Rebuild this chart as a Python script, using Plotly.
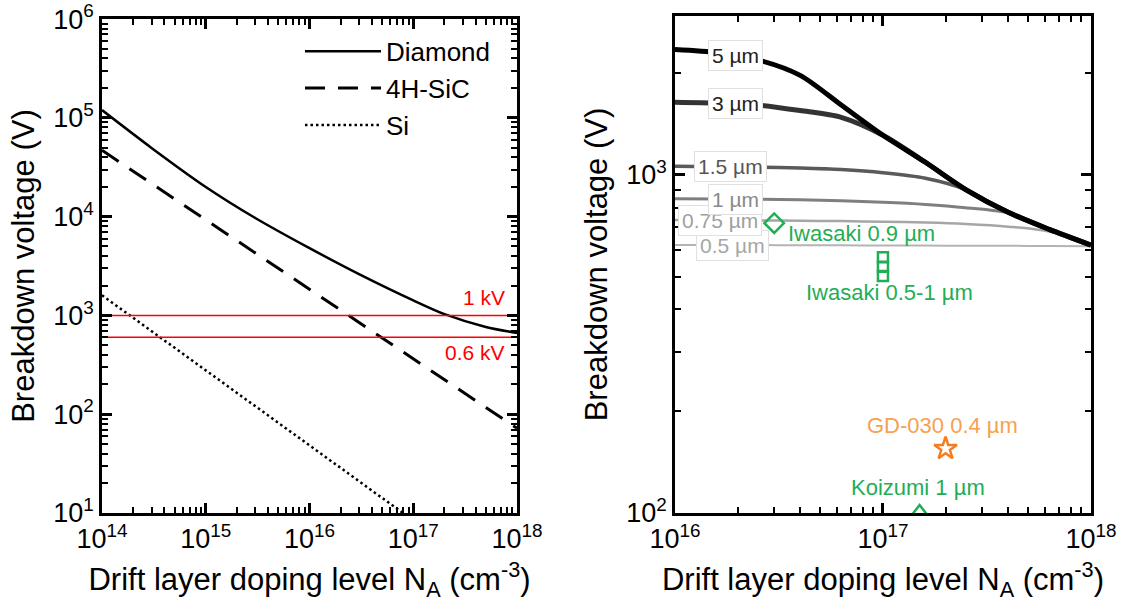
import numpy as np
import plotly.graph_objects as go

# ---------------- Left panel data ----------------
N_diamond = [1e14, 3e14, 1e15, 3e15, 1e16, 3e16, 1e17, 2e17, 5e17, 1e18]
V_diamond = [1.2e5, 4.97e4, 2.0e4, 9.7e3, 4.8e3, 2.62e3, 1.42e3, 1.03e3, 765, 665]
N_sic = [1e14, 1e15, 1e16, 1e17, 1e18]
V_sic = [4.7e4, 9.3e3, 1.86e3, 370, 72]
N_si = [1e14, 1e15, 1e16, 1e17]
V_si = [1.6e3, 280, 48, 8.4]
limit_V = [1000, 600]
limit_labels = ["1 kV", "0.6 kV"]
limit_label_pos = [(8.0e17, 1.52e3), (8.0e17, 426)]

# ---------------- Right panel data ----------------
N_right = [1.0e16, 1.6e16, 2.5e16, 4.0e16, 6.3e16, 1.0e17, 1.6e17, 2.5e17, 4.0e17, 6.3e17, 1.0e18]
thick_labels = ["0.5 µm", "0.75 µm", "1 µm", "1.5 µm", "3 µm", "5 µm"]
V_thick = [
    [620, 620, 620, 619, 619, 618, 618, 617, 617, 616, 615],
    [735, 734, 733, 732, 730, 727, 723, 716, 703, 680, 620],
    [850, 849, 847, 844, 838, 830, 818, 800, 772, 690, 620],
    [1060, 1058, 1055, 1048, 1037, 1015, 978, 905, 775, 690, 620],
    [1640, 1630, 1610, 1550, 1480, 1310, 1090, 905, 775, 690, 620],
    [2350, 2300, 2190, 1970, 1610, 1310, 1090, 905, 775, 690, 620],
]
thick_colors = ["#b4b4b4", "#a6a6a6", "#7f7f7f", "#5a5a5a", "#333333", "#000000"]
thick_text_colors = ["#a6a6a6", "#a0a0a0", "#8a8a8a", "#555555", "#222222", "#222222"]
thick_widths = [2, 2.5, 3, 3.5, 5, 5]
label_N = [1.9e16, 1.65e16, 1.95e16, 1.85e16, 1.95e16, 1.95e16]

# experimental points
iwasaki09_N, iwasaki09_V = [3e16], [720]
iwasaki_range_N, iwasaki_range_V = [1e17, 1e17, 1e17], [571, 535, 502]
gd030_N, gd030_V = [2e17], [155]
koizumi_N, koizumi_V = [1.5e17], [100]
exp_labels = ["Iwasaki 0.9 µm", "Iwasaki 0.5-1 µm", "GD-030 0.4 µm", "Koizumi 1 µm"]
exp_label_pos = [(3.4e16, 673), (1.07e17, 448), (1.94e17, 181), (1.48e17, 118.6)]

GREEN = "#1fae55"
ORANGE = "#f57c1f"
ORANGE_TXT = "#f7a14f"
FONT = "Liberation Sans, Arial, sans-serif"

fig = go.Figure()

# left traces
fig.add_trace(go.Scatter(x=N_diamond, y=V_diamond, mode="lines", name="Diamond",
                         line=dict(color="black", width=2.5, shape="spline", smoothing=0.8),
                         xaxis="x", yaxis="y"))
fig.add_trace(go.Scatter(x=N_sic, y=V_sic, mode="lines", name="4H-SiC",
                         line=dict(color="black", width=3, dash="20px,13px"),
                         xaxis="x", yaxis="y"))
fig.add_trace(go.Scatter(x=N_si, y=V_si, mode="lines", name="Si",
                         line=dict(color="black", width=2.5, dash="2.5px,3px"),
                         xaxis="x", yaxis="y"))
x_span = [1e14, 1e18]
for v in limit_V:
    fig.add_trace(go.Scatter(x=x_span, y=[v, v], mode="lines", showlegend=False,
                             line=dict(color="#ff0000", width=1.5), xaxis="x3", yaxis="y3"))

# right traces
for lab, ys, c, w in zip(thick_labels, V_thick, thick_colors, thick_widths):
    fig.add_trace(go.Scatter(x=N_right, y=ys, mode="lines", showlegend=False, name=lab,
                             line=dict(color=c, width=w, shape="spline", smoothing=0.8),
                             xaxis="x2", yaxis="y2"))

fig.add_trace(go.Scatter(x=iwasaki09_N, y=iwasaki09_V, mode="markers", showlegend=False,
                         marker=dict(symbol="diamond-open", size=15, color=GREEN, line=dict(width=2.5)),
                         xaxis="x4", yaxis="y4"))
fig.add_trace(go.Scatter(x=iwasaki_range_N, y=iwasaki_range_V, mode="markers", showlegend=False,
                         marker=dict(symbol="square-open", size=10, color=GREEN, line=dict(width=2.5)),
                         xaxis="x4", yaxis="y4"))
fig.add_trace(go.Scatter(x=gd030_N, y=gd030_V, mode="markers", showlegend=False,
                         marker=dict(symbol="star-open", size=17, color=ORANGE, line=dict(width=2.5)),
                         xaxis="x4", yaxis="y4"))
fig.add_trace(go.Scatter(x=koizumi_N, y=koizumi_V, mode="markers", showlegend=False,
                         marker=dict(symbol="triangle-up-open", size=16, color=GREEN, line=dict(width=2.5)),
                         xaxis="x4", yaxis="y4"))

annotations = []
for lab, (x, y) in zip(limit_labels, limit_label_pos):
    annotations.append(dict(x=np.log10(x), y=np.log10(y), xref="x", yref="y", text=lab,
                            showarrow=False, xanchor="right",
                            font=dict(family=FONT, size=21, color="#ff0000")))
for lab, ys, tc, xn in zip(thick_labels, V_thick, thick_text_colors, label_N):
    yv = np.interp(np.log10(xn), np.log10(N_right), np.log10(ys))
    annotations.append(dict(x=np.log10(xn), y=yv, xref="x2", yref="y2", text=lab,
                            showarrow=False, bgcolor="white", bordercolor="#e0e0e0",
                            borderwidth=1, borderpad=3,
                            font=dict(family=FONT, size=21, color=tc)))
exp_colors = [GREEN, GREEN, ORANGE_TXT, GREEN]
exp_anchor = ["left", "center", "center", "center"]
for lab, (x, y), c, a in zip(exp_labels, exp_label_pos, exp_colors, exp_anchor):
    annotations.append(dict(x=np.log10(x), y=np.log10(y), xref="x2", yref="y2", text=lab,
                            showarrow=False, xanchor=a,
                            font=dict(family=FONT, size=22, color=c)))

left_x_ticks = [1e14, 1e15, 1e16, 1e17, 1e18]
left_x_text = ["10<sup>14</sup>", "10<sup>15</sup>", "10<sup>16</sup>", "10<sup>17</sup>", "10<sup>18</sup>"]
left_y_ticks = [1e1, 1e2, 1e3, 1e4, 1e5, 1e6]
left_y_text = ["10<sup>1</sup>", "10<sup>2</sup>", "10<sup>3</sup>", "10<sup>4</sup>", "10<sup>5</sup>", "10<sup>6</sup>"]
right_x_ticks = [1e16, 1e17, 1e18]
right_x_text = ["10<sup>16</sup>", "10<sup>17</sup>", "10<sup>18</sup>"]
right_y_ticks = [1e2, 1e3]
right_y_text = ["10<sup>2</sup>", "10<sup>3</sup>"]

xtitle = "Drift layer doping level N<sub>A</sub> (cm<sup>-3</sup>)"
ytitle = "Breakdown voltage (V)"

common = dict(type="log", showline=True, linewidth=2.5, linecolor="black", mirror="ticks",
              ticks="inside", ticklen=10, tickwidth=2.5, tickcolor="black", showgrid=False,
              zeroline=False, tickmode="array", automargin=False, ticklabeloverflow="allow",
              tickfont=dict(family=FONT, size=27, color="black"))

# overlay axes that carry the minor (2..9) ticks
minor_common = dict(type="log", showline=True, linewidth=2.5, linecolor="black", mirror="ticks",
                    ticks="inside", ticklen=6, tickwidth=2, tickcolor="black", showgrid=False,
                    zeroline=False, tickmode="linear", dtick="D1", showticklabels=False,
                    automargin=False)

LX = [0.091, 0.4612]
RX = [0.6021, 0.9732]
LY = [0.1549, 0.9685]
RY = [0.1549, 0.9736]

fig.update_layout(
    width=1121, height=607, margin=dict(l=0, r=0, t=0, b=0),
    paper_bgcolor="white", plot_bgcolor="white",
    font=dict(family=FONT, color="black"),
    xaxis=dict(common, domain=LX, range=[14, 18], anchor="y",
               tickvals=left_x_ticks, ticktext=left_x_text,
               title=dict(text=xtitle, font=dict(size=31), standoff=16)),
    yaxis=dict(common, domain=LY, range=[1, 6], anchor="x",
               tickvals=left_y_ticks, ticktext=left_y_text,
               title=dict(text=ytitle, font=dict(size=31), standoff=10)),
    xaxis2=dict(common, domain=RX, range=[16, 18], anchor="y2",
                tickvals=right_x_ticks, ticktext=right_x_text,
                title=dict(text=xtitle, font=dict(size=31), standoff=16)),
    yaxis2=dict(common, domain=RY, range=[2, 3.47], anchor="x2",
                tickvals=right_y_ticks, ticktext=right_y_text,
                title=dict(text=ytitle, font=dict(size=31), standoff=10)),
    xaxis3=dict(minor_common, overlaying="x", anchor="y3", range=[14, 18]),
    yaxis3=dict(minor_common, overlaying="y", anchor="x3", range=[1, 6], side="left"),
    xaxis4=dict(minor_common, overlaying="x2", anchor="y4", range=[16, 18]),
    yaxis4=dict(minor_common, overlaying="y2", anchor="x4", range=[2, 3.47], side="left"),
    legend=dict(x=0.2676, y=0.954, xanchor="left", yanchor="top", bgcolor="rgba(0,0,0,0)",
                font=dict(family=FONT, size=26, color="black"), itemwidth=76,
                tracegroupgap=0),
    annotations=annotations,
    showlegend=True,
)

fig.write_html("out.html")
